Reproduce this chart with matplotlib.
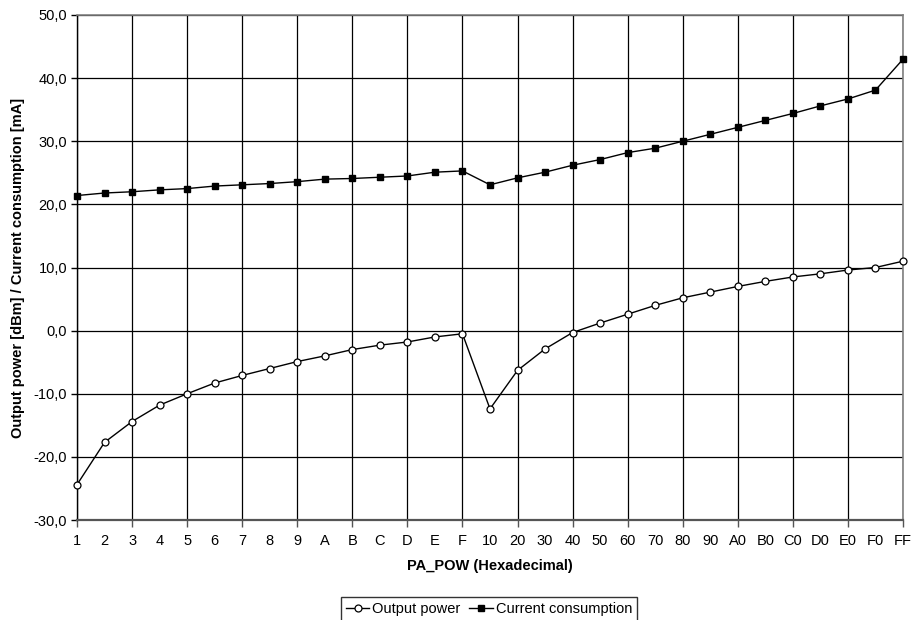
import matplotlib
matplotlib.use("Agg")
import matplotlib.pyplot as plt
from matplotlib.ticker import FuncFormatter, MultipleLocator

# PA_POW register settings (hex)
pa_pow = ["1", "2", "3", "4", "5", "6", "7", "8", "9", "A", "B", "C", "D", "E", "F",
          "10", "20", "30", "40", "50", "60", "70", "80", "90", "A0", "B0", "C0", "D0",
          "E0", "F0", "FF"]

output_power = [-24.4, -17.7, -14.4, -11.8, -10.0, -8.3, -7.1, -6.0, -4.9, -4.0, -3.0,
                -2.3, -1.8, -1.0, -0.5, -12.4, -6.3, -2.9, -0.3, 1.2, 2.6, 4.0, 5.2,
                6.1, 7.0, 7.8, 8.5, 9.0, 9.6, 10.0, 11.0]

current = [21.4, 21.8, 22.0, 22.3, 22.5, 22.9, 23.1, 23.3, 23.6, 24.0, 24.1, 24.3,
           24.5, 25.1, 25.3, 23.1, 24.2, 25.1, 26.2, 27.1, 28.2, 28.9, 30.0, 31.1,
           32.2, 33.3, 34.4, 35.6, 36.7, 38.1, 43.0]

plt.rcParams.update({
    "font.family": ["Liberation Sans", "DejaVu Sans"],
    "font.size": 10,
})

fig = plt.figure(figsize=(9.15, 6.2), dpi=100)
ax = fig.add_axes([77 / 915, 1 - 520 / 620, (903 - 77) / 915, (520 - 15) / 620])

x = list(range(len(pa_pow)))
ax.plot(x, output_power, color="black", lw=1.0, marker="o", ms=5,
        mfc="white", mec="black", mew=0.9, label="Output power", zorder=3, clip_on=False)
ax.plot(x, current, color="black", lw=1.0, marker="s", ms=4.8,
        mfc="black", mec="black", label="Current consumption", zorder=3, clip_on=False)

ax.set_xlim(0, len(pa_pow) - 1)
ax.set_ylim(-30, 50)
ax.yaxis.set_major_locator(MultipleLocator(10))
ax.yaxis.set_major_formatter(FuncFormatter(lambda v, p: f"{v:.1f}".replace(".", ",")))

# labels on every category, grid/ticks on every second one
ax.xaxis.remove_overlapping_locs = False
ax.set_xticks(x[::2])
ax.set_xticks(x, minor=True)
ax.set_xticklabels([])
ax.set_xticklabels(pa_pow, minor=True)
ax.tick_params(axis="x", which="major", length=5, width=1, color="#555555")
ax.tick_params(axis="x", which="minor", length=0, pad=10, labelsize=10.5)
ax.tick_params(axis="y", length=4, width=1, pad=3, labelsize=10.5)

ax.grid(True, which="major", color="black", lw=0.9)
ax.set_axisbelow(True)

for side in ("top", "right"):
    ax.spines[side].set_color("#808080")
    ax.spines[side].set_linewidth(1.2)
ax.spines["bottom"].set_color("#555555")
ax.spines["bottom"].set_linewidth(1.6)
ax.spines["left"].set_color("black")
ax.spines["left"].set_linewidth(1.0)

ax.set_xlabel("PA_POW (Hexadecimal)", fontweight="bold", fontsize=10.5, labelpad=8)
ax.set_ylabel("Output power [dBm] / Current consumption [mA]", fontweight="bold",
              fontsize=10.5, labelpad=6)

leg = fig.legend(loc="upper center", bbox_to_anchor=(489 / 915, 1 - 597 / 620), ncol=2,
                 frameon=True, fancybox=False, edgecolor="black", handlelength=1.6,
                 handletextpad=0.2, columnspacing=0.6, borderpad=0.35, borderaxespad=0,
                 fontsize=10.5)
leg.get_frame().set_linewidth(1.0)

fig.savefig("out.png", dpi=100)
